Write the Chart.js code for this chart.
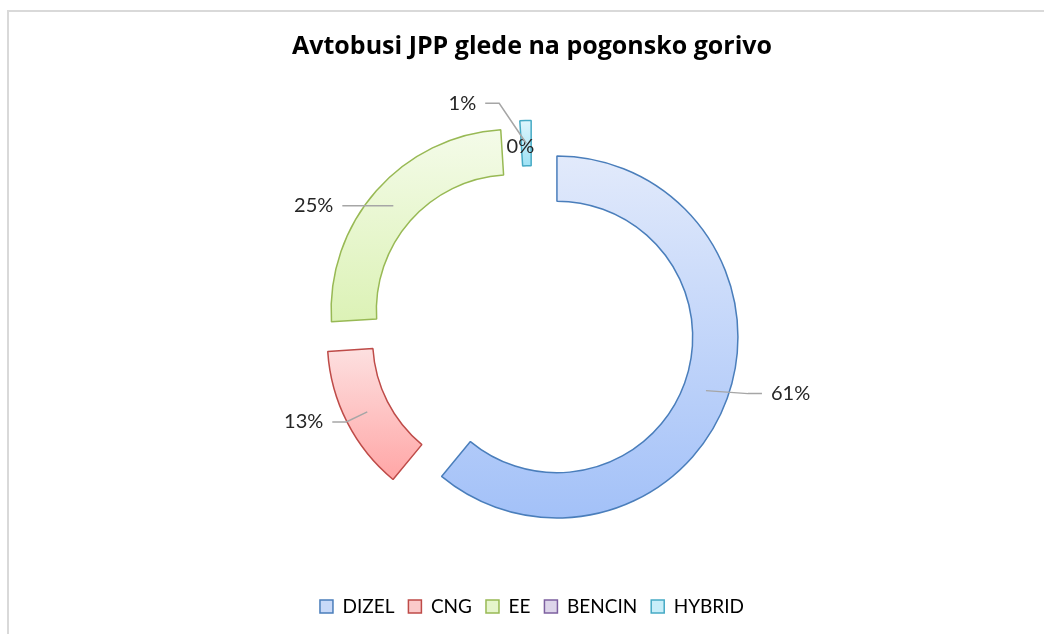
<!DOCTYPE html>
<html lang="sl">
<head>
    <meta charset="UTF-8">
    <title>Avtobusi JPP glede na pogonsko gorivo</title>
    <script src="https://cdn.jsdelivr.net/npm/chart.js"></script>
    <style>
        body {
            margin: 0;
            background: #ffffff;
            overflow: hidden;
        }

        .frame {
            position: absolute;
            left: 7px;
            top: 10px;
            width: 1100px;
            height: 700px;
            border-left: 2px solid #d9d9d9;
            border-top: 2px solid #d9d9d9;
        }

        #fuelChart {
            position: absolute;
            left: 0;
            top: 0;
        }
    </style>
</head>
<body>
    <div class="frame"></div>
    <canvas id="fuelChart" width="1044" height="634"></canvas>

    <script>
        // data (share of buses, %)
        const categories = ['DIZEL', 'CNG', 'EE', 'BENCIN', 'HYBRID'];
        const shares = [61, 13, 25, 0, 1];

        // look
        const gradTop = ['#e2eafb', '#fde0e0', '#f4fbe9', '#e6e0f0', '#def5fc'];
        const gradBottom = ['#a3c1f8', '#ffa6a6', '#dcf2b6', '#c9bce0', '#9fe2f5'];
        const borderColors = ['#4a7ebb', '#be4b48', '#98b954', '#7d60a0', '#46aac5'];
        const legendFill = ['#c8d9f8', '#fbcaca', '#e6f5cc', '#ddd5ea', '#c8eef9'];

        // label anchor relative to the middle of each ring piece
        const labelOffsets = [[65, 3], [-44, 10], [-60, 0], [0, 3], [-50, -40]];
        const labelAlign = ['left', 'right', 'right', 'center', 'right'];

        const EXPLODE = 26.5;
        const FONT = 'Lato, "Open Sans", sans-serif';

        function arcYRange(arc) {
            let top = Infinity, bottom = -Infinity;
            for (let k = 0; k <= 60; k++) {
                const a = arc.startAngle + (arc.endAngle - arc.startAngle) * k / 60;
                [arc.innerRadius, arc.outerRadius].forEach(r => {
                    const y = arc.y + Math.sin(a) * r;
                    top = Math.min(top, y);
                    bottom = Math.max(bottom, y);
                });
            }
            return [top, bottom];
        }

        // draws every slice pulled out from the centre, with its own gradient
        const explodePlugin = {
            id: 'explode',
            beforeDatasetDraw(chart, args) {
                const ctx = chart.ctx;
                args.meta.data.forEach((arc, i) => {
                    if (arc.circumference === 0) return;
                    const mid = (arc.startAngle + arc.endAngle) / 2;
                    ctx.save();
                    ctx.translate(Math.cos(mid) * EXPLODE, Math.sin(mid) * EXPLODE);
                    const [top, bottom] = arcYRange(arc);
                    const g = ctx.createLinearGradient(0, top, 0, bottom);
                    g.addColorStop(0, gradTop[i]);
                    g.addColorStop(1, gradBottom[i]);
                    const el = Object.create(arc);
                    el.options = Object.assign({}, arc.options, { backgroundColor: g });
                    el.draw(ctx);
                    ctx.restore();
                });
                return false;
            },
            afterDraw(chart) {
                const ctx = chart.ctx;
                const meta = chart.getDatasetMeta(0);
                const total = shares.reduce((a, b) => a + b, 0);
                ctx.save();
                ctx.font = '20px ' + FONT;
                ctx.textBaseline = 'middle';
                meta.data.forEach((arc, i) => {
                    const mid = (arc.startAngle + arc.endAngle) / 2;
                    const rMid = (arc.innerRadius + arc.outerRadius) / 2;
                    const px = arc.x + Math.cos(mid) * (EXPLODE + rMid);
                    const py = arc.y + Math.sin(mid) * (EXPLODE + rMid);
                    const ax = px + labelOffsets[i][0];
                    const ay = py + labelOffsets[i][1];
                    if (labelAlign[i] !== 'center') {
                        const sign = labelAlign[i] === 'left' ? 1 : -1;
                        const endX = ax - sign * 9;
                        const elbowX = endX - sign * 14;
                        ctx.beginPath();
                        ctx.moveTo(px, py);
                        ctx.lineTo(elbowX, ay);
                        ctx.lineTo(endX, ay);
                        ctx.strokeStyle = '#a6a6a6';
                        ctx.lineWidth = 1.5;
                        ctx.stroke();
                    }
                    ctx.fillStyle = '#262626';
                    ctx.textAlign = labelAlign[i];
                    ctx.fillText(Math.round(shares[i] / total * 100) + '%', ax, ay);
                });
                ctx.restore();
            }
        };

        const ctx = document.getElementById('fuelChart').getContext('2d');
        new Chart(ctx, {
            type: 'doughnut',
            data: {
                labels: categories,
                datasets: [{
                    data: shares,
                    backgroundColor: legendFill,
                    borderColor: borderColors,
                    borderWidth: 1.5
                }]
            },
            options: {
                responsive: false,
                animation: false,
                cutout: '75%',
                radius: 181,
                layout: {
                    padding: { left: 20, right: 0, top: 0, bottom: 8 }
                },
                plugins: {
                    title: {
                        display: true,
                        text: 'Avtobusi JPP glede na pogonsko gorivo',
                        color: '#000000',
                        font: { family: '"Open Sans", sans-serif', size: 25, weight: 'bold' },
                        padding: { top: 32, bottom: 11 }
                    },
                    legend: {
                        position: 'bottom',
                        labels: {
                            color: '#1a1a1a',
                            font: { family: FONT, size: 19 },
                            boxWidth: 13,
                            boxHeight: 13,
                            padding: 14,
                            generateLabels: () => categories.map((name, i) => ({
                                text: name,
                                fillStyle: legendFill[i],
                                strokeStyle: borderColors[i],
                                lineWidth: 1.5,
                                hidden: false,
                                index: i
                            }))
                        }
                    },
                    tooltip: { enabled: false }
                }
            },
            plugins: [explodePlugin]
        });
    </script>
</body>
</html>
